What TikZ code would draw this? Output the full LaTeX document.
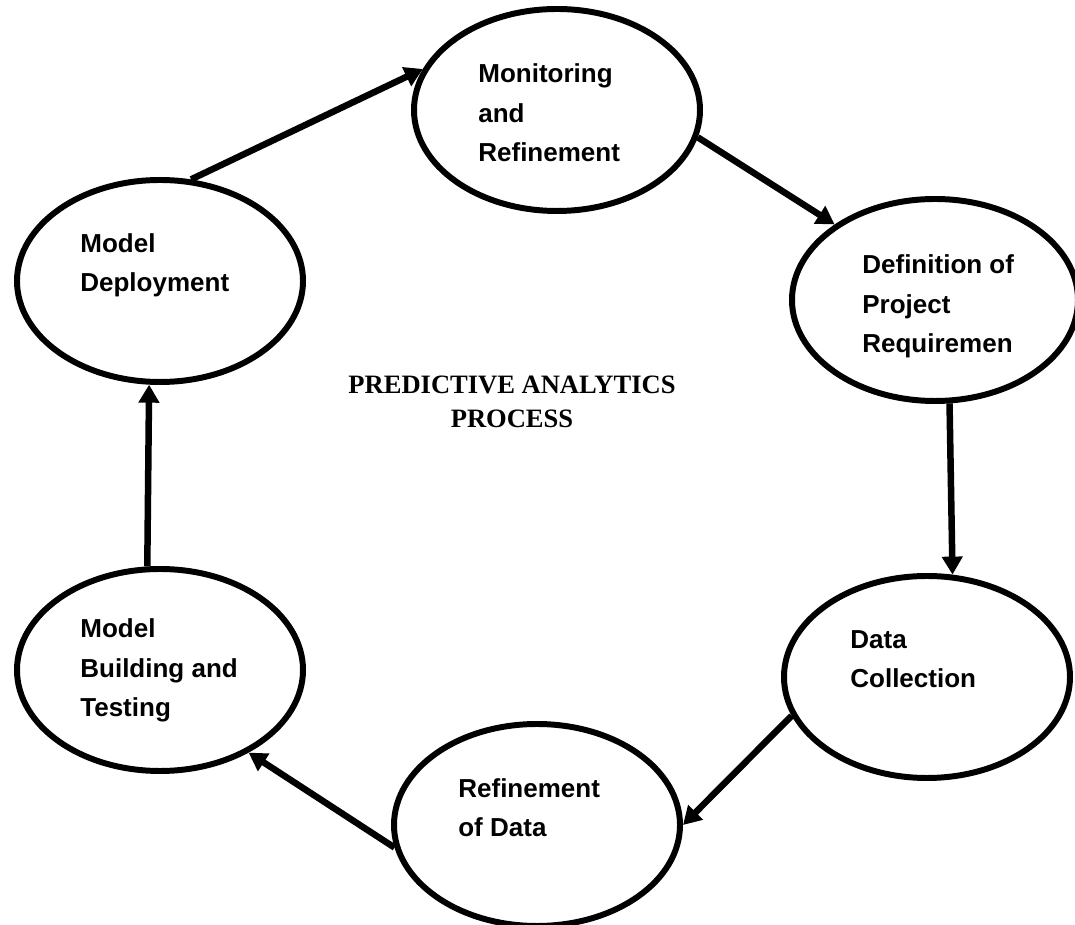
\documentclass[tikz,border=0pt]{standalone}
\usepackage{fontspec}
\setmainfont{Liberation Sans}
\newfontfamily\titlefont{Liberation Serif}
\usetikzlibrary{shapes.geometric, arrows.meta}

\begin{document}
\begin{tikzpicture}[
    stage/.style={ellipse, draw, line width=3.4pt, minimum width=5.72cm,
                  minimum height=4.04cm, inner sep=0pt},
    lbl/.style={anchor=base west, align=left, inner sep=0pt,
                font=\bfseries\fontsize{14.8}{22.7}\selectfont},
    flow/.style={line width=3.7pt, -{Triangle[length=0.36cm, width=0.40cm]}}]
  \useasboundingbox (0,0) rectangle (21.5,18.5);
  % Stages of the cycle
  \node[stage] (mon) at (11.14,16.30) {};
  \node[stage] (def) at (18.70,12.50) {};
  \node[stage] (dat) at (18.54,4.96) {};
  \node[stage] (ref) at (10.74,2.00) {};
  \node[stage] (bld) at (3.20,5.10) {};
  \node[stage] (dep) at (3.20,12.88) {};
  % Labels, placed by the baseline of their last line
  \node[lbl] (mon-lbl) at (9.56,15.26) {Monitoring\\and\\Refinement};
  \node[lbl] (def-lbl) at (17.24,11.44) {Definition of\\Project\\Requiremen};
  \node[lbl] (dat-lbl) at (17.00,4.74) {Data\\Collection};
  \node[lbl] (ref-lbl) at (9.16,1.76) {Refinement\\of Data};
  \node[lbl] (bld-lbl) at (1.60,4.16) {Model\\Building and\\Testing};
  \node[lbl] (dep-lbl) at (1.60,12.66) {Model\\Deployment};
  % Title in the middle
  \node[anchor=base, align=center, inner sep=0pt,
        font=\titlefont\bfseries\fontsize{15.1}{19.8}\selectfont]
    (title) at (10.24,9.94) {PREDICTIVE ANALYTICS\\PROCESS};
  % Arrows round the cycle
  \draw[flow] (dep.73.8) -- (mon.163.1);
  \draw[flow] (mon.-11.1) -- (def.143.9);
  \draw[flow] (def.-82.8) -- (dat.76);
  \draw[flow] (dat.196.1) -- (ref.0.8);
  \draw[flow] (ref.189.1) -- (bld.-43.6);
  \draw[flow] (bld.97.3) -- (dep.264.6);
\end{tikzpicture}
\end{document}
